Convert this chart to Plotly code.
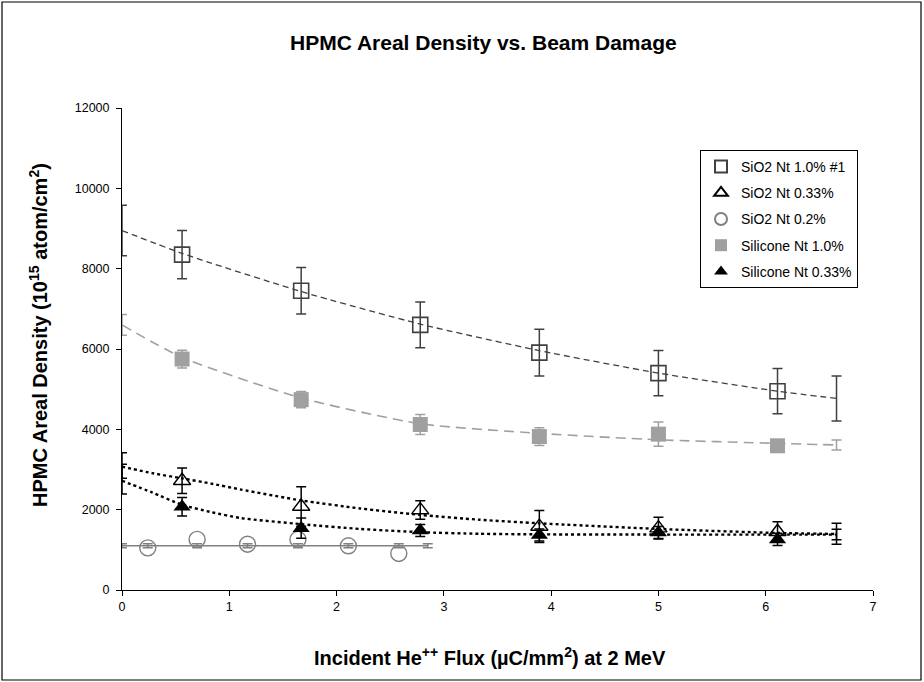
import plotly.graph_objects as go

# ---------------- data ----------------
x_main = [0.56, 1.67, 2.78, 3.89, 5.0, 6.11]

sio2_10 = [8350, 7450, 6600, 5910, 5400, 4950]
sio2_10_err = [600, 580, 570, 580, 565, 565]

sio2_033 = [2720, 2080, 1990, 1580, 1540, 1450]
sio2_033_err = [320, 490, 230, 400, 270, 250]

sil_10 = [5750, 4740, 4120, 3820, 3880, 3590]
sil_10_err = [220, 200, 250, 220, 300, 80]

sil_033 = [2070, 1540, 1480, 1370, 1430, 1260]
sil_033_err = [230, 250, 150, 150, 150, 150]

x_circ = [0.24, 0.70, 1.17, 1.64, 2.11, 2.58]
sio2_02 = [1050, 1260, 1140, 1260, 1100, 910]

# fitted trend curves
fit_x_sq = [0, 0.56, 1.67, 2.78, 3.89, 5.0, 6.11, 6.66]
fit_sio2_10 = [8950, 8380, 7430, 6620, 5960, 5400, 4950, 4770]
fit_sil_10 = [6600, 5790, 4780, 4140, 3900, 3740, 3650, 3610]

fit_x_tri = [0, 0.28, 0.56, 0.83, 1.11, 1.67, 2.22, 2.78, 3.33, 3.89, 5.0, 6.11, 6.66]
fit_sio2_033 = [3070, 2910, 2780, 2650, 2500, 2230, 2030, 1870, 1750, 1660, 1520, 1420, 1395]
fit_sil_033 = [2720, 2430, 2120, 1940, 1790, 1640, 1520, 1440, 1400, 1385, 1380, 1378, 1378]

fit_x_circ = [0, 0.24, 0.70, 1.17, 1.64, 2.11, 2.58, 2.85]
fit_sio2_02 = [1100, 1100, 1100, 1100, 1100, 1100, 1100, 1100]
fit_sio2_02_err = [50, 50, 50, 50, 50, 50, 50, 50]

# error bars drawn at the ends of the fitted curves
end_x = [0, 6.66]
end_sio2_10 = [8950, 4770]
end_sio2_10_err = [630, 560]
end_sil_10 = [6600, 3610]
end_sil_10_err = [260, 125]
end_sio2_033 = [3100, 1400]
end_sio2_033_err = [320, 260]
end_sil_033 = [2760, 1380]
end_sil_033_err = [370, 130]

x_ticks = [0, 1, 2, 3, 4, 5, 6, 7]
y_ticks = [0, 2000, 4000, 6000, 8000, 10000, 12000]

names = ["SiO2 Nt 1.0% #1", "SiO2 Nt 0.33%", "SiO2 Nt 0.2%",
         "Silicone Nt 1.0%", "Silicone Nt 0.33%"]

# ---------------- styling ----------------
FONT = "Arial, 'Liberation Sans', sans-serif"
DARK = "#404040"
GREY = "#a0a0a0"
MID = "#808080"

W, H = 924, 682
L, R, T, B = 122, 51, 108, 92

fig = go.Figure()


def fit_line(x, y, color, dash, width):
    fig.add_trace(go.Scatter(x=x, y=y, mode="lines", showlegend=False,
                             line=dict(color=color, dash=dash, width=width,
                                       shape="spline", smoothing=0.6),
                             hoverinfo="skip"))


def end_bars(x, y, err, color):
    fig.add_trace(go.Scatter(x=x, y=y, mode="markers", showlegend=False,
                             marker=dict(size=1, opacity=0),
                             error_y=dict(type="data", array=err, visible=True,
                                          color=color, thickness=1.5, width=5),
                             hoverinfo="skip"))


fit_line(fit_x_sq, fit_sio2_10, DARK, "6px,4px", 1.3)
end_bars(end_x, end_sio2_10, end_sio2_10_err, DARK)
fit_line(fit_x_sq, fit_sil_10, GREY, "10px,6px", 1.6)
end_bars(end_x, end_sil_10, end_sil_10_err, GREY)
fit_line(fit_x_tri, fit_sio2_033, "black", "3px,3px", 2.4)
end_bars(end_x, end_sio2_033, end_sio2_033_err, "black")
fit_line(fit_x_tri, fit_sil_033, "black", "3px,3px", 2.4)
end_bars(end_x, end_sil_033, end_sil_033_err, "black")
fig.add_trace(go.Scatter(x=fit_x_circ, y=fit_sio2_02, mode="lines+markers",
                         showlegend=False, line=dict(color=MID, width=1.5),
                         marker=dict(size=1, opacity=0),
                         error_y=dict(type="data", array=fit_sio2_02_err,
                                      visible=True, color=MID, thickness=1.5, width=5),
                         hoverinfo="skip"))

# data series
fig.add_trace(go.Scatter(
    x=x_main, y=sio2_10, mode="markers", name=names[0], legendgroup="a",
    marker=dict(symbol="square-open", size=15, color=DARK, line=dict(width=1.6, color=DARK)),
    error_y=dict(type="data", array=sio2_10_err, visible=True, color=DARK, thickness=1.5, width=5)))
fig.add_trace(go.Scatter(
    x=x_main, y=sio2_033, mode="markers", name=names[1], legendgroup="b",
    marker=dict(symbol="triangle-up-open", size=15, color="black", line=dict(width=1.4, color="black")),
    error_y=dict(type="data", array=sio2_033_err, visible=True, color="black", thickness=1.5, width=5)))
fig.add_trace(go.Scatter(
    x=x_circ, y=sio2_02, mode="markers", name=names[2], legendgroup="c",
    marker=dict(symbol="circle-open", size=16, color=MID, line=dict(width=1.4, color=MID))))
fig.add_trace(go.Scatter(
    x=x_main, y=sil_10, mode="markers", name=names[3], legendgroup="d",
    marker=dict(symbol="square", size=15, color=GREY, line=dict(width=0)),
    error_y=dict(type="data", array=sil_10_err, visible=True, color=GREY, thickness=1.5, width=5)))
fig.add_trace(go.Scatter(
    x=x_main, y=sil_033, mode="markers", name=names[4], legendgroup="e",
    marker=dict(symbol="triangle-up", size=15, color="black", line=dict(width=0)),
    error_y=dict(type="data", array=sil_033_err, visible=True, color="black", thickness=1.5, width=5)))

pw = W - L - R
ph = H - T - B


def px_x(p):
    return (p - L) / pw


def px_y(p):
    return (H - B - p) / ph


fig.update_layout(
    width=W, height=H,
    margin=dict(l=L, r=R, t=T, b=B),
    paper_bgcolor="white", plot_bgcolor="white",
    font=dict(family=FONT, size=12, color="black"),
    showlegend=True,
    legend=dict(x=px_x(700), y=px_y(150), xanchor="left", yanchor="top",
                bgcolor="white", bordercolor="black", borderwidth=1,
                font=dict(family=FONT, size=14, color="black"),
                traceorder="grouped", tracegroupgap=5,
                itemsizing="constant", itemwidth=30),
    xaxis=dict(range=[0, 7], tickvals=x_ticks, ticktext=[str(v) for v in x_ticks],
               showgrid=False, zeroline=False, showline=True, linecolor="black",
               linewidth=1, ticks="outside", ticklen=5, tickcolor="black",
               tickfont=dict(family=FONT, size=12.5)),
    yaxis=dict(range=[0, 12000], tickvals=y_ticks, ticktext=[str(v) for v in y_ticks],
               showgrid=False, zeroline=False, showline=True, linecolor="black",
               linewidth=1, ticks="outside", ticklen=5, tickcolor="black",
               ticklabelstandoff=4,
               tickfont=dict(family=FONT, size=12.5)),
    annotations=[
        dict(text="<b>HPMC Areal Density vs. Beam Damage</b>", xref="paper", yref="paper",
             x=px_x(483), y=px_y(42), xanchor="center", yanchor="middle",
             showarrow=False, font=dict(family=FONT, size=21, color="black")),
        dict(text="<b>Incident He<sup>++</sup> Flux (µC/mm<sup>2</sup>) at 2 MeV</b>",
             xref="paper", yref="paper", x=px_x(490), y=px_y(656),
             xanchor="center", yanchor="middle", showarrow=False,
             font=dict(family=FONT, size=20, color="black")),
        dict(text="<b>HPMC Areal Density (10<sup>15</sup> atom/cm<sup>2</sup>)</b>",
             xref="paper", yref="paper", x=px_x(38), y=px_y(335), textangle=-90,
             xanchor="center", yanchor="middle", showarrow=False,
             font=dict(family=FONT, size=20, color="black")),
    ],
    shapes=[dict(type="rect", xref="paper", yref="paper",
                 x0=px_x(2), x1=px_x(921), y0=px_y(680), y1=px_y(2),
                 line=dict(color="black", width=1.2), layer="below")],
)

fig.write_html("out.html", config={"displayModeBar": False},
               post_script="document.body.style.margin='0';document.body.style.overflow='hidden';")
